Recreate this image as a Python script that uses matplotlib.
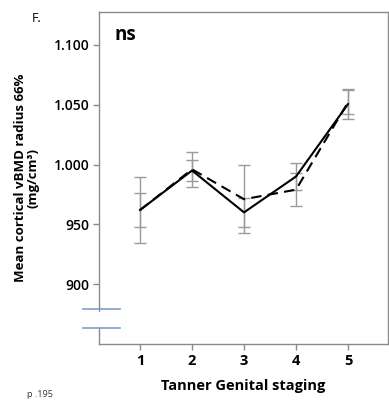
import matplotlib.pyplot as plt
import matplotlib.transforms as mtransforms

plt.rcParams['font.family'] = ['Open Sans', 'DejaVu Sans']

# Tanner genital stage means and SE for the two groups
stages = [1, 2, 3, 4, 5]
solid_mean = [962, 995, 960, 990, 1050.5]
solid_se = [27.5, 8.5, 12, 11, 12.5]
dashed_mean = [962, 996, 971, 979, 1052]
dashed_se = [14.5, 14.5, 28.5, 14, 10]

yticks = [900, 950, 1000, 1050, 1100]
ytick_labels = ['900', '950', '1.000', '1.050', '1.100']

fig = plt.figure(figsize=(3.89, 4.0), dpi=100)
ax = fig.add_axes([99 / 389, 56 / 400, 289 / 389, 332 / 400])

err_kw = dict(fmt='none', ecolor='#9a9a9a', elinewidth=1.0, capsize=4.5, capthick=1.0, zorder=2)
ax.errorbar(stages, solid_mean, yerr=solid_se, **err_kw)
ax.errorbar(stages, dashed_mean, yerr=dashed_se, **err_kw)
ax.plot(stages, solid_mean, color='black', lw=1.5, zorder=3)
ax.plot(stages, dashed_mean, color='black', lw=1.5, ls=(0, (5, 3)), zorder=3)

ax.set_xlim(0.21, 5.77)
ax.set_ylim(850, 1127.5)
ax.set_xticks(stages)
ax.set_xticklabels([str(s) for s in stages], fontsize=10.5, fontweight='bold')
ax.set_yticks(yticks)
ax.set_yticklabels(ytick_labels, fontsize=10, fontweight='semibold')

for side in ['left', 'bottom', 'top', 'right']:
    ax.spines[side].set_color('#8a8a8a')
    ax.spines[side].set_linewidth(1.0)
ax.tick_params(axis='both', direction='out', length=4, width=1.0, color='#8a8a8a', pad=3)

ax.set_xlabel('Tanner Genital staging', fontsize=10.5, fontweight='bold', labelpad=8)
ax.set_ylabel('Mean cortical vBMD radius 66%\n(mg/cm³)', fontsize=9.5, fontweight='bold',
              labelpad=10, linespacing=1.0)

# broken axis marker on the y axis
trans = mtransforms.blended_transform_factory(ax.transAxes, ax.transData)
ax.fill_between([-0.01, 0.01], 865, 877, color='white', transform=trans, clip_on=False, zorder=4)
for yb in [863, 879]:
    ax.plot([-0.055, 0.073], [yb, yb], color='#7f9dc8', lw=1.2, transform=trans,
            clip_on=False, zorder=5)

ax.text(0.055, 0.93, 'ns', transform=ax.transAxes, fontsize=13.5, fontweight='bold', va='center')
fig.text(32 / 389, 1 - 19 / 400, 'F.', fontsize=9, va='center')
fig.text(27 / 389, 1 - 399 / 400, 'p .195', fontsize=6.5, va='bottom', color='#333333')

fig.savefig('out.png', dpi=100)
